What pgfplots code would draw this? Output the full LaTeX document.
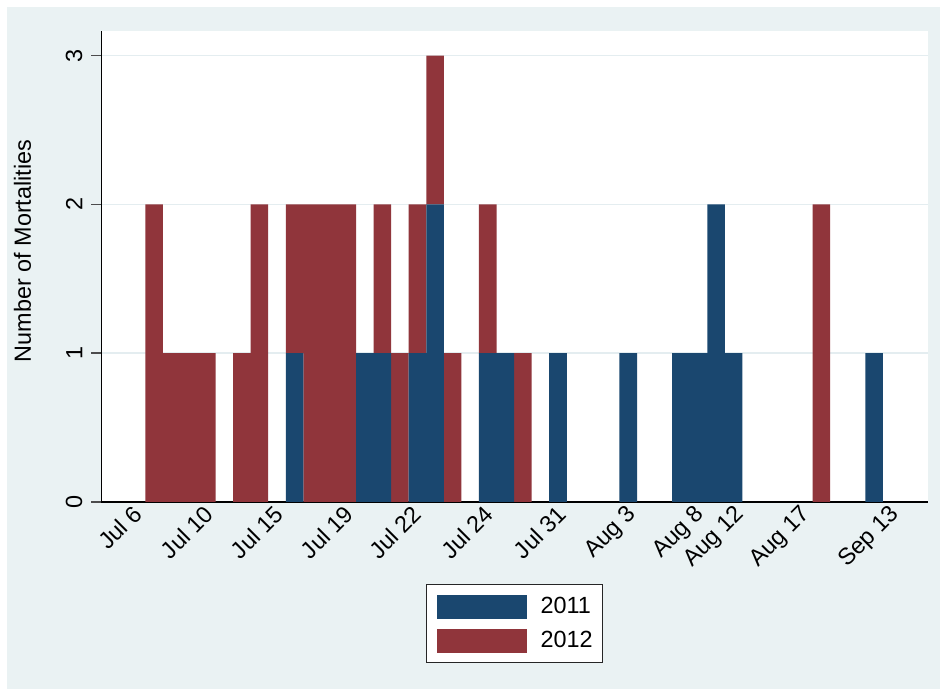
\documentclass[border=0pt]{standalone}
\usepackage{fontspec}
\setmainfont{Liberation Sans}
\usepackage{pgfplots}
\usepackage{pgfplotstable}
\pgfplotsset{compat=1.18}
\definecolor{bgc}{RGB}{234,242,243}
\definecolor{navyc}{RGB}{26,71,111}
\definecolor{maroonc}{RGB}{144,53,59}
\definecolor{gridc}{RGB}{228,237,240}
\newcommand\lbl{\fontsize{11.7}{14}\selectfont}

\pgfplotstableread{
j  b  r
3  0  2
4  0  1
5  0  1
6  0  1
8  0  1
9  0  2
11 1  1
12 0  2
13 0  2
14 0  2
15 1  0
16 1  1
17 0  1
18 1  1
19 2  1
20 0  1
22 1  1
23 1  0
24 0  1
26 1  0
30 1  0
33 1  0
34 1  0
35 2  0
36 1  0
41 0  2
44 1  0
}\data

\begin{document}
\begin{tikzpicture}
\fill[white] (-50.7pt,-93.5pt) rectangle (419.3pt,251pt);
\fill[bgc] (-47.2pt,-93.5pt) rectangle (419.3pt,247.5pt);
\begin{axis}[
  at={(0pt,0pt)}, anchor=south west,
  scale only axis, width=413.3pt, height=235.5pt,
  xmin=0, xmax=47.07, ymin=0, ymax=3.165,
  ybar stacked, bar width=1,
  every axis plot post/.append style={legend image code/.code={\fill[##1] (0pt,-6pt) rectangle (45pt,6pt);}},
  axis background/.style={fill=white},
  axis x line*=bottom, axis y line*=left,
  axis line style={black, line width=0.6pt},
  xtick={1.71,5.79,9.78,13.76,17.64,21.74,25.89,29.81,33.70,35.97,39.73,44.80},
  xticklabels={Jul 6,Jul 10,Jul 15,Jul 19,Jul 22,Jul 24,Jul 31,Aug 3,Aug 8,Aug 12,Aug 17,Sep 13},
  xtick style={draw=none},
  xticklabel style={rotate=45, anchor=north east, inner sep=0pt},
  xticklabel shift=-4.3pt,
  ytick={0,1,2,3},
  ytick style={draw=black!70, line width=0.75pt},
  tick align=outside, major tick length=5pt,
  yticklabel style={rotate=90, anchor=south, inner sep=0pt},
  yticklabel shift=4.3pt,
  tick label style={font=\lbl},
  /pgf/number format/assume math mode=true,
  ymajorgrids, grid style={gridc, line width=0.8pt},
  ylabel={Number of Mortalities},
  ylabel style={at={(axis description cs:-0.0955,0.533)}, anchor=center, font=\lbl},
  legend style={at={(axis description cs:0.5,-0.1747)}, anchor=north,
    draw=black!85, fill=white, line width=0.5pt,
    inner xsep=5pt, inner ysep=5pt, row sep=5pt,
    nodes={inner sep=0pt, anchor=west, font=\lbl},
    /tikz/every odd column/.append style={column sep=7pt}},
  legend cell align=left,
]
\addplot[fill=navyc, draw=none] table[x=j, y=b]{\data};
\addplot[fill=maroonc, draw=none] table[x=j, y=r]{\data};
\legend{2011,2012}
\end{axis}
\end{tikzpicture}
\end{document}
